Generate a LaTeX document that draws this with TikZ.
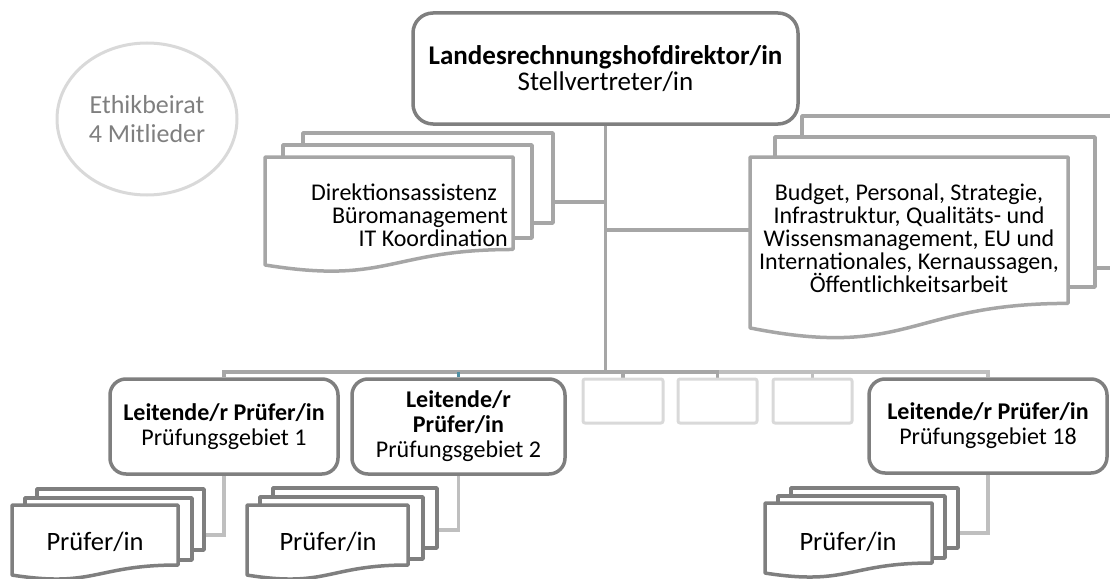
\documentclass[tikz,border=0pt]{standalone}
\usepackage{fontspec}
\setmainfont{Carlito}
\usetikzlibrary{shapes.geometric}
\pgfdeclarelayer{bg}
\pgfsetlayers{bg,main}
\definecolor{dk}{HTML}{7F7F7F}
\definecolor{md}{HTML}{A6A6A6}
\definecolor{lt}{HTML}{BFBFBF}
\definecolor{vl}{HTML}{D9D9D9}
\definecolor{tl}{HTML}{4F8FA3}
\newcommand\mdpage[5]{\draw[#1,fill=white] (#2,#3) rectangle ({#2+#4},{#3+#5});}
\newcommand\mdfront[5]{\draw[#1,fill=white] (#2,#3) -- ({#2+#4},#3) -- ({#2+#4},{#3+0.8*#5}) .. controls ({#2+0.5*#4},{#3+0.8*#5}) and ({#2+0.5*#4},{#3+1.1075*#5}) .. (#2,{#3+0.934*#5}) -- cycle;}
\newcommand\fsz[2]{\fontsize{#1}{#2}\selectfont\lineskiplimit=-30pt\relax}
\tikzset{
  pgm/.style={draw=md,line width=3.5pt},
  pgd/.style={draw=dk,line width=3.5pt},
  rbox/.style={draw=dk,line width=3.5pt,fill=white,rounded corners=16pt,align=center,inner sep=0pt,
    font=\fsz{24}{25}},
  phbox/.style={draw=vl,line width=3pt,fill=white,rounded corners=2pt,minimum width=79pt,minimum height=44pt,inner sep=0pt},
  conn/.style={draw=md,line width=3.5pt},
  connL/.style={draw=lt,line width=3.5pt},
  txt/.style={inner sep=0pt,font=\fsz{24}{23}},
  ptxt/.style={inner sep=0pt,font=\fsz{26.5}{28}},
}
\begin{document}
\begin{tikzpicture}[x=1pt,y=-1pt,line join=round]
\useasboundingbox (0,0) rectangle (1110,578);
\clip (0,0) rectangle (1110,578);
% Ethikbeirat
\node[ellipse,draw=vl,line width=3pt,minimum width=180pt,minimum height=152pt,inner sep=0pt,
  align=center,text=dk,font=\fsz{26}{29}] (eth) at (147,119) {Ethikbeirat\\4 Mitlieder};
% top box
\node[rbox,rounded corners=20pt,minimum width=385pt,minimum height=111pt,
  font=\fsz{27}{26}] (dir) at (605.5,68.5)
  {\bfseries Landesrechnungshofdirektor/in\\Stellvertreter/in};
% left upper stack
\mdpage{pgm}{303}{133}{250}{90}
\mdpage{pgm}{283}{145}{249}{93}
\mdfront{pgm}{265}{157}{248}{115.6}
\node[txt,align=right,anchor=east] (lst) at (508,215)
  {Direktionsassistenz\hspace*{0.45em}\\Büromanagement\\IT Koordination};
\coordinate (ls) at (553,202);
% right upper stack
\mdpage{pgm}{802}{116}{320}{152}
\mdpage{pgm}{775}{137}{320}{150}
\mdfront{pgm}{750}{157}{318}{183}
\node[txt,align=center] (rst) at (909,238)
  {Budget, Personal, Strategie,\\Infrastruktur, Qualitäts- und\\Wissensmanagement, EU und\\Internationales, Kernaussagen,\\Öffentlichkeitsarbeit};
\coordinate (rs) at (750,230);
% second level boxes
\node[rbox,minimum width=228pt,minimum height=95pt] (b1) at (224,426.5)
  {\bfseries Leitende/r Prüfer/in\\Prüfungsgebiet 1};
\node[rbox,minimum width=213pt,minimum height=95pt] (b2) at (458.5,426.5)
  {\bfseries Leitende/r\\\bfseries Prüfer/in\\Prüfungsgebiet 2};
\node[rbox,minimum width=238pt,minimum height=94pt] (b18) at (988,426)
  {\bfseries Leitende/r Prüfer/in\\Prüfungsgebiet 18};
\node[phbox,minimum width=80pt] (p1) at (623,401) {};
\node[phbox] (p2) at (717.5,401) {};
\node[phbox] (p3) at (812.5,401) {};
% bottom stacks
\mdpage{pgd}{37}{489}{167}{61}
\mdpage{pgd}{25}{498}{167}{62}
\mdfront{pgd}{12}{505}{166}{75}
\node[ptxt] (t1) at (95,542) {Prüfer/in};
\coordinate (s1) at (204,535);
\mdpage{pgd}{273}{488}{164}{60}
\mdpage{pgd}{260}{497}{163}{62}
\mdfront{pgd}{247}{505}{161}{75}
\node[ptxt] (t2) at (328,542) {Prüfer/in};
\coordinate (s2) at (437,530);
\mdpage{pgd}{791}{488}{167}{60}
\mdpage{pgd}{778}{496}{167}{62}
\mdfront{pgd}{765}{503}{167}{75}
\node[ptxt] (t18) at (848,542) {Prüfer/in};
\coordinate (s18) at (958,533);
% connectors
\coordinate (bus) at (605.5,372);
\begin{pgfonlayer}{bg}
\draw[conn] (dir.south) -- (bus);
\draw[conn] (dir.south |- ls) -- (ls);
\draw[conn] (dir.south |- rs) -- (rs);
\draw[connL] (bus) -| (b18.north);
\draw[connL] (p3.north) -- (p3.north |- bus);
\draw[conn] (bus) -| (p2.north);
\draw[conn] (p1.north) -- (p1.north |- bus);
\draw[conn] (b1.north) |- (bus);
\draw[draw=tl,line width=3.5pt] (b2.north) -- (b2.north |- bus);
\draw[connL] (b1.south) |- (s1);
\draw[connL] (b2.south) |- (s2);
\draw[connL] (b18.south) |- (s18);
\end{pgfonlayer}
\end{tikzpicture}
\end{document}
